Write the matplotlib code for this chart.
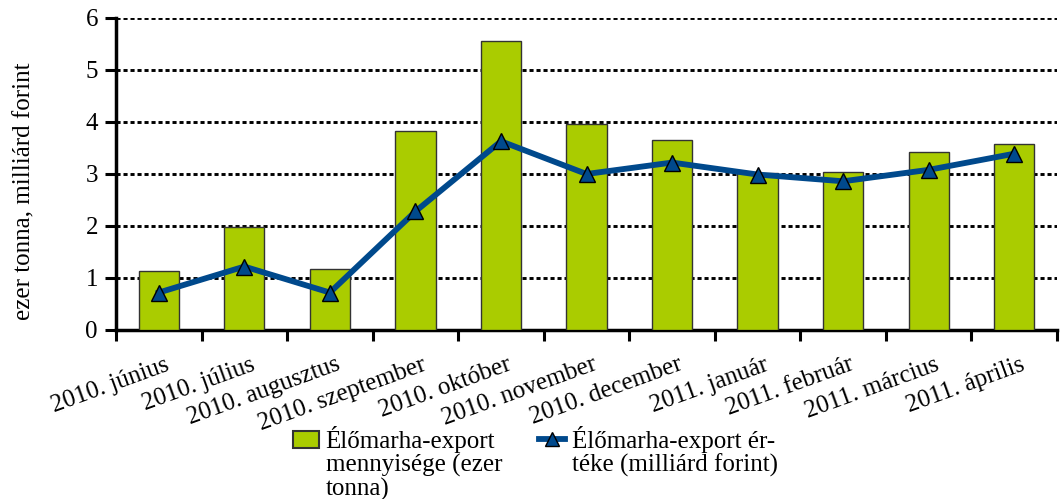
import numpy as np
import matplotlib.pyplot as plt
from matplotlib.lines import Line2D
from matplotlib.patches import Patch
import matplotlib.transforms as mtransforms

plt.rcParams['font.family'] = ['Liberation Serif', 'DejaVu Serif']

# data
months = ['2010. június', '2010. július', '2010. augusztus', '2010. szeptember',
          '2010. október', '2010. november', '2010. december', '2011. január',
          '2011. február', '2011. március', '2011. április']
mennyiseg = [1.13, 1.98, 1.17, 3.83, 5.56, 3.96, 3.65, 3.02, 3.03, 3.42, 3.58]
ertek = [0.72, 1.22, 0.72, 2.28, 3.63, 3.0, 3.22, 2.99, 2.86, 3.08, 3.39]

green = '#AACC00'
blue = '#00498C'
fs = 18

fig = plt.figure(figsize=(10.61, 4.99), dpi=100)
ax = fig.add_axes([116 / 1061, 1 - 330 / 499, 941 / 1061, 312 / 499])

x = np.arange(len(months))
ax.bar(x, mennyiseg, width=0.47, color=green, edgecolor='#333333', linewidth=1.0, zorder=3)
ax.plot(x, ertek, color=blue, linewidth=4.2, marker='^', markersize=12,
        markerfacecolor=blue, markeredgecolor='black', markeredgewidth=1.0, zorder=4)

ax.set_xlim(-0.5, len(months) - 0.5)
ax.set_ylim(0, 6)
ax.set_yticks(range(0, 7))
ax.yaxis.grid(True, color='black', linestyle=(0, (1.4, 1.0)), linewidth=2.1, zorder=1)
ax.set_axisbelow(True)

# ticks between categories, labels centred under bars
ax.set_xticks(np.arange(-0.5, len(months), 1.0))
ax.set_xticklabels([])
ax.set_xticks(x, minor=True)
ax.set_xticklabels(months, minor=True, rotation=20, ha='right', rotation_mode='anchor')
ax.tick_params(axis='x', which='minor', length=0, pad=17, labelsize=fs)
ax.tick_params(axis='x', which='major', length=8, width=2.2, direction='out')
ax.tick_params(axis='y', length=8, width=2.2, labelsize=fs, pad=5)
offset = mtransforms.ScaledTranslation(0.06, 0, fig.dpi_scale_trans)
for lab in ax.get_xticklabels(minor=True):
    lab.set_transform(lab.get_transform() + offset)

for s in ['top', 'right']:
    ax.spines[s].set_visible(False)
for s in ['left', 'bottom']:
    ax.spines[s].set_linewidth(2.5)

ax.set_ylabel('ezer tonna, milliárd forint', fontsize=fs)
ax.yaxis.set_label_coords(-0.086, 0.445)

# legend: handle beside the first line, the rest of the label wraps below
handles = [Patch(facecolor=green, edgecolor='#333333', linewidth=1.5),
           Line2D([0], [0], color=blue, linewidth=4.2, marker='^', markersize=10,
                  markerfacecolor=blue, markeredgecolor='black')]
first = ['Élőmarha-export', 'Élőmarha-export ér-']
rest = [['mennyisége (ezer', 'tonna)'], ['téke (milliárd forint)']]
xs = [293, 539]
legs = []
for h, lab, xl in zip(handles, first, xs):
    lg = fig.legend([h], [lab], loc='upper left', bbox_to_anchor=(xl / 1061, 1 - 426 / 499),
                    frameon=False, fontsize=fs, handlelength=1.05, handletextpad=0.25,
                    borderaxespad=0, borderpad=0)
    legs.append(lg)
fig.canvas.draw()
inv = fig.transFigure.inverted()
for lg, lines in zip(legs, rest):
    bb = lg.get_texts()[0].get_window_extent()
    x0, y0 = inv.transform((bb.x0, bb.y0))
    for i, line in enumerate(lines):
        fig.text(x0, y0 - (i + 1) * 24 / 499, line, fontsize=fs, ha='left', va='bottom')

fig.savefig('out.png', dpi=100)
